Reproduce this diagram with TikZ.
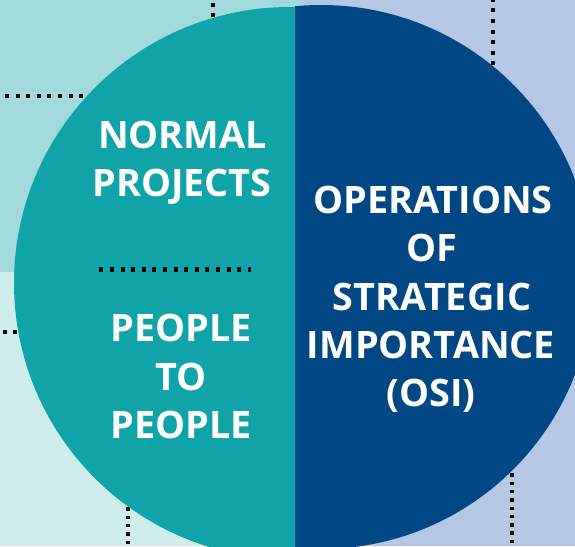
\documentclass[tikz,border=0pt]{standalone}
\usepackage{fontspec}
\setmainfont{Open Sans}
\definecolor{cTeal}{HTML}{10A3A8}
\definecolor{cNavy}{HTML}{004783}
\definecolor{bgTL}{HTML}{A2D9DC}
\definecolor{bgBL}{HTML}{CFECEC}
\definecolor{bgR}{HTML}{B4C8E6}
\begin{document}
\begin{tikzpicture}[x=1pt,y=-1pt,
  lbl/.style={text=white,font=\fontsize{37.8}{40}\selectfont\bfseries,inner sep=0pt,anchor=base},
  dots/.style={draw=black,line width=4.5pt,dash pattern=on 4pt off 6.6pt},
  dotsb/.style={draw=black,line width=3.5pt,dash pattern=on 3.4pt off 4.9pt}]
\useasboundingbox (0,0) rectangle (575,546);
\clip (0,0) rectangle (575,546);
% background
\fill[bgTL] (0,0) rectangle (300,272);
\fill[bgBL] (0,272) rectangle (300,546);
\fill[bgR] (300,0) rectangle (575,546);
% outer dotted lines
\coordinate (d1a) at (213,2.7); \coordinate (d1b) at (213,40);
\coordinate (d2a) at (5,96); \coordinate (d2b) at (100,96);
\coordinate (d3a) at (2.7,332); \coordinate (d3b) at (40,332);
\coordinate (d4a) at (128,507.3); \coordinate (d4b) at (128,550);
\coordinate (d5a) at (493,-2.2); \coordinate (d5b) at (493,90);
\coordinate (d6a) at (512,473.3); \coordinate (d6b) at (512,550);
\draw[dots] (d1a) -- (d1b);
\draw[dots] (d2a) -- (d2b);
\draw[dots] (d3a) -- (d3b);
\draw[dotsb] (d4a) -- (d4b);
\draw[dots] (d5a) -- (d5b);
\draw[dotsb] (d6a) -- (d6b);
% halves
\begin{scope}
\clip (295,-10) rectangle (600,560);
\fill[cNavy] (321,277) circle[radius=272pt];
\end{scope}
\begin{scope}
\clip (-10,-10) rectangle (295,560);
\fill[cTeal] (290,283) circle[radius=276pt];
\end{scope}
% inner dotted divider
\coordinate (d7a) at (99.3,269.5); \coordinate (d7b) at (251,269.5);
\draw[dots] (d7a) -- (d7b);
% texts
\node[lbl] (t1) at (182.5,148) {NORMAL};
\node[lbl] (t2) at (182,196.5) {PROJECTS};
\node[lbl] (t3) at (181,341.5) {PEOPLE};
\node[lbl] (t4) at (181,390) {TO};
\node[lbl] (t5) at (181,438.5) {PEOPLE};
\node[lbl] (t6) at (433,213) {OPERATIONS};
\node[lbl] (t7) at (432,261.5) {OF};
\node[lbl] (t8) at (432,310) {STRATEGIC};
\node[lbl] (t9) at (431,358.5) {IMPORTANCE};
\node[lbl] (t10) at (431,406.7) {(OSI)};
\end{tikzpicture}
\end{document}
